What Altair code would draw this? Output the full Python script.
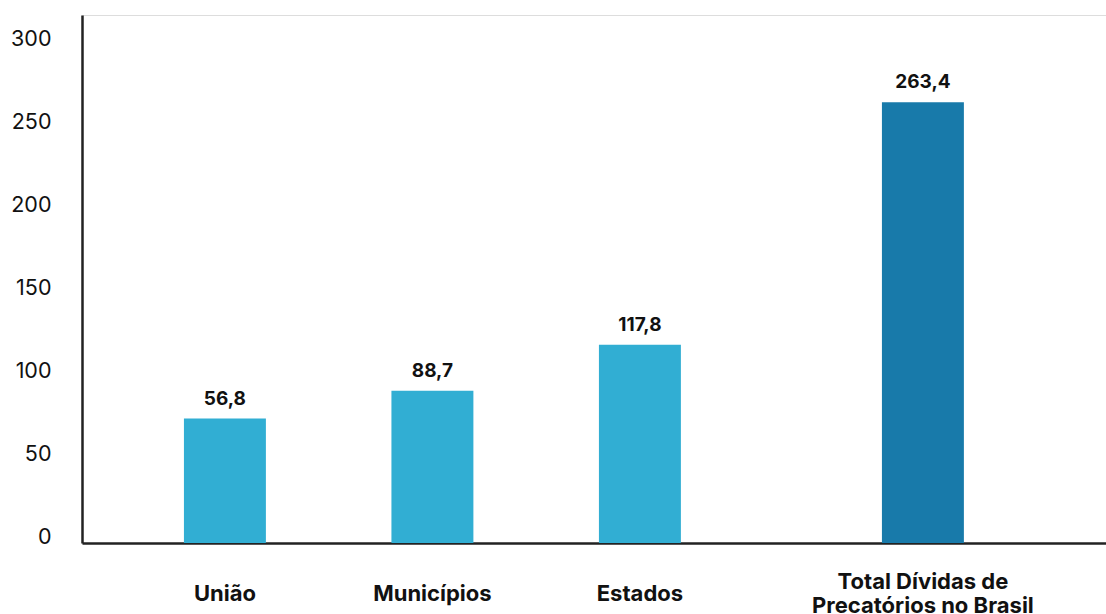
import altair as alt
import pandas as pd

categories = ["União", "Municípios", "Estados", "Total Dívidas de\nPrecatórios no Brasil"]
bar_heights = [71.5, 88.2, 116.0, 262.3]
value_labels = ["56,8", "88,7", "117,8", "263,4"]
bar_colors = ["#31AED3", "#31AED3", "#31AED3", "#187AAA"]
y_ticks = [0, 50, 100, 150, 200, 250, 300]

df = pd.DataFrame({
    "cat": categories,
    "val": bar_heights,
    "lab": value_labels,
    "col": bar_colors,
    "shift": [0, 0, 0, 1],
})

W, H = 1024, 528
FONT = "Inter"
YMIN = -3.6

xscale = alt.Scale(paddingInner=0.605, paddingOuter=0.77, align=0.319)
x_enc = alt.X("cat:N", sort=categories, scale=xscale,
              axis=alt.Axis(labels=False, ticks=False, title=None,
                            domainColor="#222222", domainWidth=2.5))
y_enc = alt.Y("val:Q", scale=alt.Scale(domain=[YMIN, 315], nice=False, zero=False),
              axis=alt.Axis(values=y_ticks, grid=False, ticks=False, title=None,
                            labelFont=FONT, labelFontSize=21.5, labelColor="#111111",
                            labelPadding=31, domainColor="#222222", domainWidth=2.5))

base = alt.Chart(df)

def layer(shifted):
    src = base.transform_filter(f"datum.shift == {shifted}")
    off = 75.5 if shifted else 0
    bars = src.mark_bar(xOffset=off).encode(
        x=x_enc, y=y_enc, y2=alt.datum(YMIN),
        color=alt.Color("col:N", scale=None),
    )
    vals = src.mark_text(xOffset=off, baseline="alphabetic", dy=-14, font=FONT,
                         fontSize=19, fontWeight="bold", color="#111111").encode(
        x=alt.X("cat:N", sort=categories), y="val:Q", text="lab:N")
    cats = src.mark_text(xOffset=off, baseline="middle", font=FONT, fontSize=22,
                         fontWeight="bold", color="#111111", lineBreak="\n",
                         lineHeight=24, dy=-12 if shifted else 0).encode(
        x=alt.X("cat:N", sort=categories), y=alt.value(579), text="cat:N")
    return [bars, vals, cats]

chart = alt.layer(*layer(0), *layer(1)).properties(
    width=W, height=H,
    padding={"left": 82, "top": 15, "right": 0, "bottom": 71},
    autosize=alt.AutoSizeParams(type="none"),
).configure_view(stroke=None).configure(background="white")

chart.save("out.html", embed_options={"renderer": "svg", "actions": False})
